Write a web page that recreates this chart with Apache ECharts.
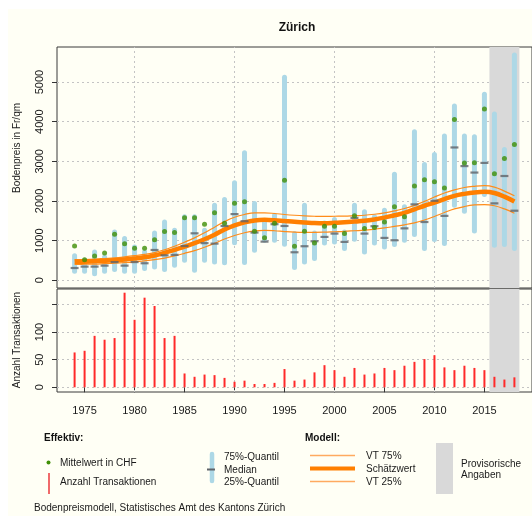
<!DOCTYPE html>
<html>
<head>
<meta charset="utf-8">
<script src="https://cdn.jsdelivr.net/npm/echarts@6/dist/echarts.min.js"></script>
<style>
  html, body { margin: 0; padding: 0; background: #ffffff; }
  #main { width: 532px; height: 516px; }
</style>
</head>
<body>
<div id="main"></div>
<script>
// Jahre 1974 - 2018
var jahre = [];
for (var j = 1974; j <= 2018; j++) jahre.push(j);

var q75 = [620,505,715,589,1220,1052,842,715,1195,1473,1263,1600,1600,1263,1894,2037,2458,3215,1936,1473,1641,5118,1178,1894,1195,1448,1532,1220,1894,1726,1600,1768,2677,1852,3746,2921,3173,3636,4394,3636,3620,4689,4192,3300,5682];
var q25 = [227,227,168,227,270,227,227,300,337,270,380,505,253,505,463,440,945,450,760,1010,1010,909,320,463,547,943,968,800,1035,715,943,842,901,1010,1153,800,1027,926,1894,1742,1246,2163,884,901,800];
var median = [310,345,345,370,460,370,460,430,765,630,642,865,1185,937,925,1370,1670,1490,1204,975,1415,1370,707,859,985,1094,1178,968,1574,1178,1364,1069,1010,1310,1915,1470,2005,1625,3350,2880,2717,2960,1940,2630,1755];
var mittelwert = [865,520,610,690,1160,920,810,810,1020,1230,1205,1575,1575,1415,1705,1436,1940,1980,1240,1075,1436,2525,859,1237,943,1364,1364,1178,1625,1305,1330,1473,1852,1600,2378,2538,2483,2328,4057,2960,2963,4318,2690,3072,3426];

var schaetzwert = [465,470,478,490,505,525,550,580,625,690,770,850,935,1035,1150,1280,1385,1460,1510,1525,1515,1495,1475,1460,1445,1440,1450,1465,1480,1500,1535,1580,1640,1700,1790,1880,1960,2050,2130,2180,2215,2230,2200,2110,1985];
var vt75 = [520,525,535,550,565,590,620,655,700,770,860,960,1070,1200,1340,1480,1590,1660,1700,1700,1685,1660,1640,1625,1615,1610,1615,1620,1630,1640,1665,1700,1750,1810,1890,1990,2100,2200,2280,2340,2370,2385,2350,2250,2130];
var vt25 = [400,405,410,420,430,445,465,490,520,560,615,680,750,835,930,1040,1130,1200,1245,1260,1250,1230,1215,1210,1210,1215,1225,1235,1250,1265,1290,1320,1360,1400,1450,1520,1610,1710,1800,1860,1900,1910,1880,1800,1690];

var transaktionen = [63,66,93,86,89,171,122,162,147,89,93,25,19,23,22,17,10,12,6,6,8,33,12,14,27,40,31,19,35,23,25,35,31,39,46,51,58,36,31,39,35,31,19,14,18];

var xTicks = [1975,1980,1985,1990,1995,2000,2005,2010,2015];
var xGitter = [1980,1990,2000,2010];
var yTicksOben = [0,1000,2000,3000,4000,5000];
var yTicksUnten = [0,50,100,150];
var yLabelsUnten = [0,50,100];
var provisorisch = [2015.5, 2018.5];

function paare(werte) {
  return jahre.map(function (jahr, i) { return [jahr, werte[i]]; });
}
function zahl(v) { return String(v); }

var schrift = 'Liberation Sans, Arial, sans-serif';
var gitterStil = { color: '#c4c4c4', type: [2, 3], width: 1, opacity: 1 };

var chart = echarts.init(document.getElementById('main'), null, { renderer: 'canvas' });

var option = {
  animation: false,
  backgroundColor: '#ffffff',
  textStyle: { fontFamily: schrift },
  grid: [
    { left: 57, top: 47, width: 477, height: 241, show: true, backgroundColor: 'transparent', borderColor: '#3a3a3a', borderWidth: 1 },
    { left: 57, top: 289, width: 477, height: 103, show: true, backgroundColor: 'transparent', borderColor: '#3a3a3a', borderWidth: 1 }
  ],
  xAxis: [
    { type: 'value', gridIndex: 0, min: 1972.24, max: 2019.76, axisLine: { show: false }, axisTick: { show: false },
      axisLabel: { show: false }, splitLine: { show: false } },
    { type: 'value', gridIndex: 1, min: 1972.24, max: 2019.76, axisLine: { show: false },
      axisTick: { show: true, length: 5, lineStyle: { color: '#333' }, customValues: xTicks },
      axisLabel: { show: true, customValues: xTicks, formatter: zahl, fontSize: 11, color: '#1a1a1a', margin: 13, fontFamily: schrift },
      splitLine: { show: false } }
  ],
  yAxis: [
    { type: 'value', gridIndex: 0, min: -194, max: 5883, axisLine: { show: false },
      axisTick: { show: true, length: 5, lineStyle: { color: '#333' }, customValues: yTicksOben },
      axisLabel: { show: true, customValues: yTicksOben, formatter: zahl, rotate: 90, fontSize: 11, color: '#1a1a1a', margin: 12, fontFamily: schrift },
      splitLine: { show: false } },
    { type: 'value', gridIndex: 1, min: -8.5, max: 177.7, axisLine: { show: false },
      axisTick: { show: true, length: 5, lineStyle: { color: '#333' }, customValues: yTicksUnten },
      axisLabel: { show: true, customValues: yLabelsUnten, formatter: zahl, rotate: 90, fontSize: 11, color: '#1a1a1a', margin: 12, fontFamily: schrift },
      splitLine: { show: false } }
  ],
  series: [
    {
      // Hilfsreihe fuer Gitter und provisorischen Bereich (oben)
      name: 'Gitter oben', type: 'scatter', xAxisIndex: 0, yAxisIndex: 0, z: 1, silent: true,
      data: paare(schaetzwert), symbolSize: 0, itemStyle: { opacity: 0 },
      markArea: { silent: true, z: 1, itemStyle: { color: '#d9d9d9' },
        data: [[{ xAxis: provisorisch[0] }, { xAxis: provisorisch[1] }]] },
      markLine: { silent: true, z: 0.5, symbol: ['none', 'none'], label: { show: false }, lineStyle: gitterStil, emphasis: { disabled: true },
        data: xGitter.map(function (v) { return { xAxis: v }; }).concat(yTicksOben.map(function (v) { return { yAxis: v }; })) }
    },
    {
      // Quartilsbalken
      name: 'Quantile', type: 'custom', xAxisIndex: 0, yAxisIndex: 0, z: 3,
      data: jahre.map(function (jahr, i) { return [jahr, q25[i], q75[i]]; }),
      renderItem: function (params, api) {
        var unten = api.coord([api.value(0), api.value(1)]);
        var oben = api.coord([api.value(0), api.value(2)]);
        return { type: 'line', shape: { x1: unten[0], y1: unten[1], x2: oben[0], y2: oben[1] },
          style: { stroke: '#add8e6', lineWidth: 5, lineCap: 'round' } };
      }
    },
    { name: 'VT 75%', type: 'line', xAxisIndex: 0, yAxisIndex: 0, z: 4, data: paare(vt75), smooth: 0.4, showSymbol: false,
      lineStyle: { color: '#ff8c1a', width: 1.2 } },
    { name: 'VT 25%', type: 'line', xAxisIndex: 0, yAxisIndex: 0, z: 4, data: paare(vt25), smooth: 0.4, showSymbol: false,
      lineStyle: { color: '#ff8c1a', width: 1.2 } },
    { name: 'Schätzwert', type: 'line', xAxisIndex: 0, yAxisIndex: 0, z: 5, data: paare(schaetzwert), smooth: 0.4, showSymbol: false,
      lineStyle: { color: '#ff7f00', width: 4.5 } },
    { name: 'Median', type: 'scatter', xAxisIndex: 0, yAxisIndex: 0, z: 6, data: paare(median),
      symbol: 'rect', symbolSize: [8, 2.2], itemStyle: { color: '#5f6368' } },
    { name: 'Mittelwert in CHF', type: 'scatter', xAxisIndex: 0, yAxisIndex: 0, z: 7, data: paare(mittelwert),
      symbol: 'circle', symbolSize: 5, itemStyle: { color: '#3f8f06' } },
    {
      name: 'Anzahl Transaktionen', type: 'bar', xAxisIndex: 1, yAxisIndex: 1, z: 4, data: paare(transaktionen),
      barWidth: 2, itemStyle: { color: '#ff2a2a' },
      markArea: { silent: true, z: 1, itemStyle: { color: '#d9d9d9' },
        data: [[{ xAxis: provisorisch[0] }, { xAxis: provisorisch[1] }]] },
      markLine: { silent: true, z: 0.5, symbol: ['none', 'none'], label: { show: false }, lineStyle: gitterStil, emphasis: { disabled: true },
        data: xGitter.map(function (v) { return { xAxis: v }; }).concat(yTicksUnten.map(function (v) { return { yAxis: v }; })) }
    }
  ],
  graphic: [
    { type: 'rect', z: -10, silent: true, shape: { x: 8, y: 9, width: 524, height: 507 }, style: { fill: '#fffff5' } },
    { type: 'text', x: 297, y: 28, style: { text: 'Zürich', font: 'bold 12px ' + schrift, fill: '#111', align: 'center', verticalAlign: 'middle' } },
    { type: 'text', x: 17, y: 148, rotation: Math.PI / 2, style: { text: 'Bodenpreis in Fr/qm', font: '10px ' + schrift, fill: '#1a1a1a', align: 'center', verticalAlign: 'middle' } },
    { type: 'text', x: 17, y: 340, rotation: Math.PI / 2, style: { text: 'Anzahl Transaktionen', font: '10px ' + schrift, fill: '#1a1a1a', align: 'center', verticalAlign: 'middle' } },

    // Legende Effektiv
    { type: 'text', x: 44, y: 438, style: { text: 'Effektiv:', font: 'bold 10px ' + schrift, fill: '#111', verticalAlign: 'middle' } },
    { type: 'circle', shape: { cx: 48.5, cy: 462.5, r: 2 }, style: { fill: '#3f8f06' } },
    { type: 'text', x: 60, y: 463, style: { text: 'Mittelwert in CHF', font: '10px ' + schrift, fill: '#1a1a1a', verticalAlign: 'middle' } },
    { type: 'line', shape: { x1: 49, y1: 473, x2: 49, y2: 494 }, style: { stroke: '#f06a6a', lineWidth: 2 } },
    { type: 'text', x: 60, y: 482, style: { text: 'Anzahl Transaktionen', font: '10px ' + schrift, fill: '#1a1a1a', verticalAlign: 'middle' } },

    { type: 'line', shape: { x1: 212, y1: 454, x2: 212, y2: 481 }, style: { stroke: '#add8e6', lineWidth: 4.5, lineCap: 'round' } },
    { type: 'rect', shape: { x: 207, y: 468.5, width: 8, height: 2 }, style: { fill: '#5f6368' } },
    { type: 'text', x: 224, y: 457, style: { text: '75%-Quantil', font: '10px ' + schrift, fill: '#1a1a1a', verticalAlign: 'middle' } },
    { type: 'text', x: 224, y: 470, style: { text: 'Median', font: '10px ' + schrift, fill: '#1a1a1a', verticalAlign: 'middle' } },
    { type: 'text', x: 224, y: 482, style: { text: '25%-Quantil', font: '10px ' + schrift, fill: '#1a1a1a', verticalAlign: 'middle' } },

    // Legende Modell
    { type: 'text', x: 305, y: 438, style: { text: 'Modell:', font: 'bold 10px ' + schrift, fill: '#111', verticalAlign: 'middle' } },
    { type: 'line', shape: { x1: 310, y1: 455.5, x2: 355, y2: 455.5 }, style: { stroke: '#ffaa60', lineWidth: 1.5 } },
    { type: 'line', shape: { x1: 310, y1: 468.5, x2: 355, y2: 468.5 }, style: { stroke: '#ff7f00', lineWidth: 4 } },
    { type: 'line', shape: { x1: 310, y1: 481.5, x2: 355, y2: 481.5 }, style: { stroke: '#ffaa60', lineWidth: 1.5 } },
    { type: 'text', x: 366, y: 456, style: { text: 'VT 75%', font: '10px ' + schrift, fill: '#1a1a1a', verticalAlign: 'middle' } },
    { type: 'text', x: 366, y: 469.5, style: { text: 'Schätzwert', font: '10px ' + schrift, fill: '#1a1a1a', verticalAlign: 'middle' } },
    { type: 'text', x: 366, y: 482, style: { text: 'VT 25%', font: '10px ' + schrift, fill: '#1a1a1a', verticalAlign: 'middle' } },

    { type: 'rect', shape: { x: 436, y: 443, width: 17, height: 51 }, style: { fill: '#d9d9d9' } },
    { type: 'text', x: 461, y: 464, style: { text: 'Provisorische', font: '10px ' + schrift, fill: '#1a1a1a', verticalAlign: 'middle' } },
    { type: 'text', x: 461, y: 475, style: { text: 'Angaben', font: '10px ' + schrift, fill: '#1a1a1a', verticalAlign: 'middle' } },

    { type: 'text', x: 34, y: 508, style: { text: 'Bodenpreismodell, Statistisches Amt des Kantons Zürich', font: '10px ' + schrift, fill: '#1a1a1a', verticalAlign: 'middle' } }
  ]
};

chart.setOption(option);
</script>
</body>
</html>
